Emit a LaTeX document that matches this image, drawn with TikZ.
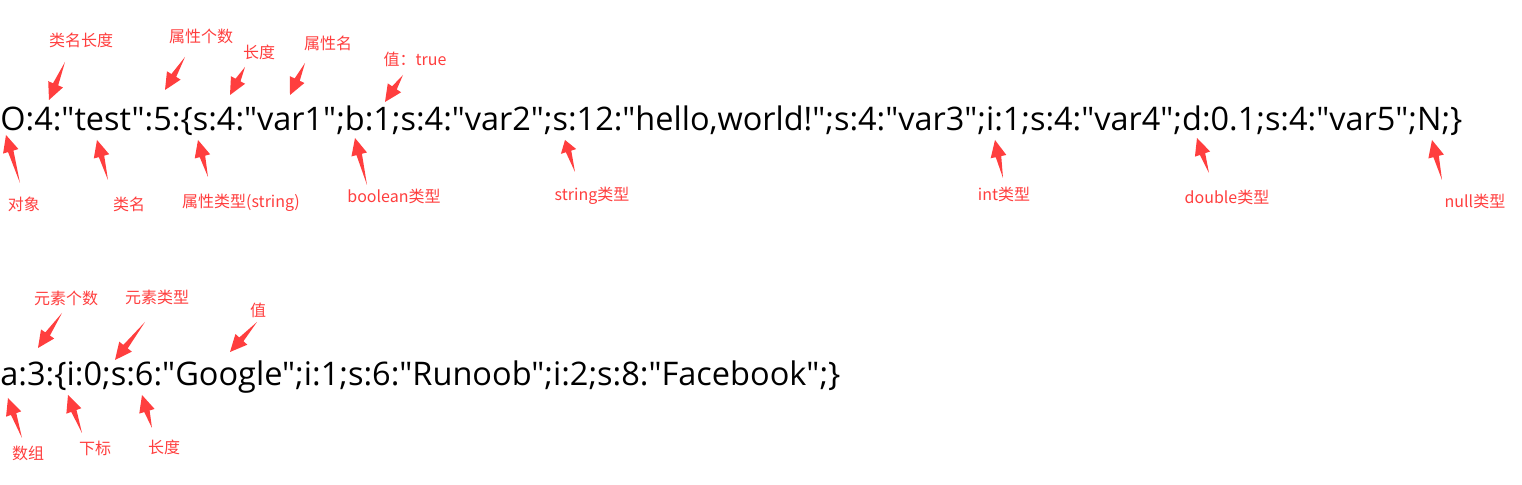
\documentclass[tikz,border=0pt]{standalone}
\usepackage{fontspec}
\usetikzlibrary{calc}
\newfontfamily\labfont{Noto Sans CJK SC}
\newfontfamily\codefont{Open Sans}
\definecolor{arrowred}{RGB}{255,62,62}
\tikzset{
  lab/.style={font=\labfont\fontsize{8pt}{9.5pt}\selectfont, text=arrowred, inner sep=0pt},
  code/.style={inner sep=0pt, anchor=base west}
}
% #1 head length, #2 tail coordinate, #3 tip coordinate
\newcommand\ptr[3][8.5pt]{%
  \fill[arrowred] (#3) -- ($($(#3)!#1!(#2)$)!4pt!90:(#3)$)
    -- ($($(#3)!#1!(#2)$)!1.4pt!90:(#3)$) -- (#2)
    -- ($($(#3)!#1!(#2)$)!1.4pt!-90:(#3)$)
    -- ($($(#3)!#1!(#2)$)!4pt!-90:(#3)$) -- cycle;}
\begin{document}
\begin{tikzpicture}[x=0.5pt,y=-0.5pt]
\useasboundingbox (0,0) rectangle (1522,485);
% main lines
\node[code] (obj) at (0,131) {\resizebox{731pt}{!}{\codefont O:4:"test":5:\{s:4:"var1";b:1;s:4:"var2";s:12:"hello,world!";s:4:"var3";i:1;s:4:"var4";d:0.1;s:4:"var5";N;\}}};
\node[code] (arr) at (0,386) {\resizebox{420pt}{!}{\codefont a:3:\{i:0;s:6:"Google";i:1;s:6:"Runoob";i:2;s:8:"Facebook";\}}};
% labels top
\node[lab] (l1) at (81,40) {类名长度};
\node[lab] (l2) at (201,36) {属性个数};
\node[lab] (l3) at (259,52) {长度};
\node[lab] (l4) at (328,43) {属性名};
\node[lab] (l5) at (415,59) {值：true};
\node[lab] (l6) at (24,204) {对象};
\node[lab] (l7) at (129,204) {类名};
\node[lab] (l8) at (241,203) {属性类型(string)};
\node[lab] (l9) at (394,196) {boolean类型};
\node[lab] (l10) at (592,196) {string类型};
\node[lab] (l11) at (1004,194) {int类型};
\node[lab] (l12) at (1227,197) {double类型};
\node[lab] (l13) at (1475,201) {null类型};
% labels bottom
\node[lab] (m1) at (66,298) {元素个数};
\node[lab] (m2) at (157,297) {元素类型};
\node[lab] (m3) at (258,310) {值};
\node[lab] (m4) at (28,453) {数组};
\node[lab] (m5) at (95,448) {下标};
\node[lab] (m6) at (164,447) {长度};
% arrow ends
\coordinate (t1) at (65,62);   \coordinate (p1) at (49,100);
\coordinate (t2) at (185,57);  \coordinate (p2) at (165,90);
\coordinate (t3) at (245,67);  \coordinate (p3) at (230,95);
\coordinate (t4) at (305,63);  \coordinate (p4) at (290,95);
\coordinate (t5) at (403,75);  \coordinate (p5) at (385,102);
\coordinate (t6) at (20,183);  \coordinate (p6) at (6,135);
\coordinate (t7) at (108,180); \coordinate (p7) at (97,140);
\coordinate (t8) at (208,177); \coordinate (p8) at (198,140);
\coordinate (t9) at (367,185); \coordinate (p9) at (355,138);
\coordinate (t10) at (575,172); \coordinate (p10) at (565,140);
\coordinate (t11) at (1003,178); \coordinate (p11) at (995,140);
\coordinate (t12) at (1209,173); \coordinate (p12) at (1197,138);
\coordinate (t13) at (1442,180); \coordinate (p13) at (1432,140);
\coordinate (u1) at (62,313);  \coordinate (q1) at (38,348);
\coordinate (u2) at (145,322); \coordinate (q2) at (115,360);
\coordinate (u3) at (257,322); \coordinate (q3) at (230,352);
\coordinate (u4) at (22,438);  \coordinate (q4) at (8,398);
\coordinate (u5) at (82,433);  \coordinate (q5) at (68,395);
\coordinate (u6) at (152,428); \coordinate (q6) at (142,395);
\ptr{t1}{p1} \ptr{t2}{p2} \ptr{t3}{p3} \ptr{t4}{p4} \ptr{t5}{p5}
\ptr{t6}{p6} \ptr{t7}{p7} \ptr{t8}{p8} \ptr{t9}{p9}
\ptr[6pt]{t10}{p10} \ptr{t11}{p11} \ptr{t12}{p12} \ptr{t13}{p13}
\ptr{u1}{q1} \ptr{u2}{q2} \ptr{u3}{q3} \ptr{u4}{q4} \ptr{u5}{q5} \ptr{u6}{q6}
\end{tikzpicture}
\end{document}
